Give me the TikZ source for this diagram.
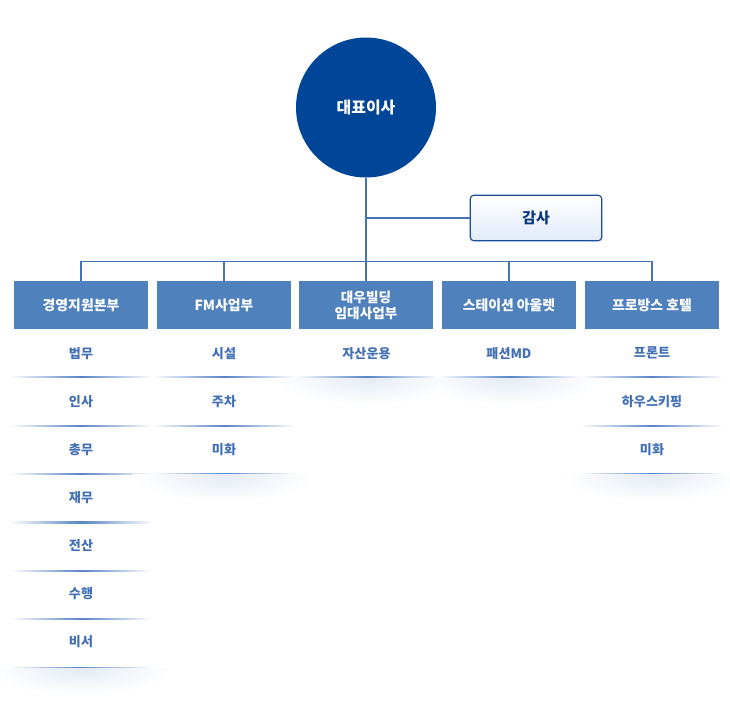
\documentclass[tikz,border=0pt]{standalone}
\usepackage{fontspec}
\setmainfont{Noto Sans CJK KR}
\definecolor{ceoblue}{RGB}{0,70,152}
\definecolor{headblue}{RGB}{79,129,189}
\definecolor{linkblue}{RGB}{70,115,180}
\definecolor{itemblue}{RGB}{66,112,182}
\definecolor{sepblue}{RGB}{88,132,198}
\definecolor{auditborder}{RGB}{25,75,155}
\definecolor{audittext}{RGB}{10,55,130}
\definecolor{auditbot}{RGB}{226,235,250}
\definecolor{glow}{RGB}{229,235,245}
\tikzset{
  ceostyle/.style={circle, fill=ceoblue, text=white, minimum size=105pt, inner sep=0pt, font=\bfseries\fontsize{12}{14}\selectfont},
  auditstyle/.style={rounded corners=2.5pt, draw=auditborder, line width=0.9pt, top color=white, bottom color=auditbot, text=audittext, minimum width=98.5pt, minimum height=34pt, inner sep=0pt, font=\bfseries\fontsize{11.2}{13}\selectfont},
  headstyle/.style={fill=headblue, text=white, minimum width=100.5pt, minimum height=36pt, inner sep=0pt, align=center, font=\bfseries\fontsize{10.4}{13}\selectfont},
  itemstyle/.style={text=itemblue, inner sep=0pt, font=\bfseries\fontsize{9.8}{12}\selectfont},
  conn/.style={draw=linkblue, line width=0.9pt}
}
\begin{document}
\begin{tikzpicture}[x=0.75pt,y=-0.75pt]
\useasboundingbox (0,0) rectangle (730,704);
\fill[white] (0,0) rectangle (730,704);
% top
\node[ceostyle] (ceo) at (366,107.5) {대표이사};
\node[auditstyle] (audit) at (536,218) {감사};
% headers
\node[headstyle] (h1) at (81,305) {경영지원본부};
\node[headstyle] (h2) at (224,305) {FM사업부};
\node[headstyle, font=\bfseries\fontsize{10.2}{13}\selectfont] (h3) at (366,305) {대우빌딩\\[-1pt]임대사업부};
\node[headstyle] (h4) at (509,305) {스테이션 아울렛};
\node[headstyle] (h5) at (652,305) {프로방스 호텔};
% connectors
\draw[conn] (ceo.south) -- (h3.north);
\draw[conn] (ceo.south |- audit.west) -- (audit.west);
\coordinate (bus1) at ([yshift=14.2pt]h1.north);
\draw[conn] (h1.north) -- (bus1) -| (h5.north);
\draw[conn] (h2.north) -- (h2.north |- bus1);
\draw[conn] (h4.north) -- (h4.north |- bus1);
% items
\foreach \cx/\gl/\gr/\list [count=\c] in {81/95/95/{법무,인사,총무,재무,전산,수행,비서},224/95/95/{시설,주차,미화},366.5/95/71.5/{자산운용},509/71.5/95/{패션MD},652/95/95/{프론트,하우스키핑,미화}} {
  \foreach \t [count=\i from 0] in \list {
    \node[itemstyle] (c\c-\i) at (\cx,353.2+48.1*\i) {\t};
    \shade[left color=white, right color=white, middle color=sepblue] (\cx-71.5,376.7+48.4*\i) rectangle (\cx+71.5,377.8+48.4*\i);
    \xdef\lastidx{\i}
  }
  \begin{scope}
    \clip (\cx-\gl,378+48.4*\lastidx) rectangle (\cx+\gr,404+48.4*\lastidx);
    \shade[inner color=glow, outer color=white] (\cx,377.8+48.4*\lastidx) ellipse [x radius=92, y radius=27];
  \end{scope}
}
\end{tikzpicture}
\end{document}
